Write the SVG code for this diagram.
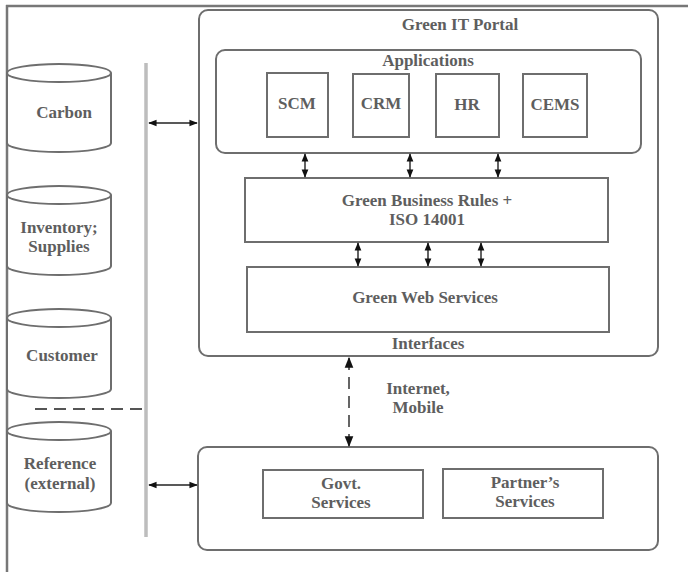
<svg xmlns="http://www.w3.org/2000/svg" width="688" height="572" viewBox="0 0 688 572">
  <style>
    .box { fill: #fff; stroke: #6e6e6e; stroke-width: 2; }
    .cyl { fill: #fff; stroke: #6e6e6e; stroke-width: 2; }
    .lbl { font-family: "Liberation Serif", "Times New Roman", serif; font-size: 17px; font-weight: bold; fill: #5e5e5e; text-anchor: middle; }
    .conn { stroke: #222; stroke-width: 1.4; fill: none; }
    .dash { stroke: #555; stroke-width: 1.8; fill: none; stroke-dasharray: 12 7; }
  </style>
  <defs>
    <marker id="ah" viewBox="0 0 10 10" refX="9" refY="5" markerWidth="6" markerHeight="6" orient="auto-start-reverse">
      <path d="M0,1 L10,5 L0,9 z" fill="#111"/>
    </marker>
  </defs>

  <rect width="688" height="572" fill="#fff"/>

  <!-- frame edges -->
  <g id="frame">
    <line x1="6" y1="6" x2="688" y2="6" stroke="#777" stroke-width="2.5"/>
    <line x1="7" y1="5" x2="7" y2="572" stroke="#777" stroke-width="2.5"/>
  </g>

  <!-- data stores -->
  <g id="carbon">
    <path class="cyl" d="M7,73 V143 A52,9 0 0 0 111,143 V73"/>
    <ellipse class="cyl" cx="59" cy="73" rx="52" ry="9"/>
    <text class="lbl" x="64" y="118">Carbon</text>
  </g>
  <g id="inventory">
    <path class="cyl" d="M7,195 V266 A52,9 0 0 0 111,266 V195"/>
    <ellipse class="cyl" cx="59" cy="195" rx="52" ry="9"/>
    <text class="lbl" x="59" y="233">Inventory;</text>
    <text class="lbl" x="59" y="252">Supplies</text>
  </g>
  <g id="customer">
    <path class="cyl" d="M7,318 V389 A52,9 0 0 0 111,389 V318"/>
    <ellipse class="cyl" cx="59" cy="318" rx="52" ry="9"/>
    <text class="lbl" x="62" y="361">Customer</text>
  </g>
  <g id="reference">
    <path class="cyl" d="M7,431 V503 A52,9 0 0 0 111,503 V431"/>
    <ellipse class="cyl" cx="59" cy="431" rx="52" ry="9"/>
    <text class="lbl" x="60" y="469">Reference</text>
    <text class="lbl" x="60" y="489">(external)</text>
  </g>

  <!-- shared bus -->
  <g id="bus">
    <line x1="146" y1="63" x2="146" y2="537" stroke="#bdbdbd" stroke-width="3.5"/>
  </g>

  <!-- portal -->
  <g id="portal">
    <rect class="box" x="199" y="10" width="459" height="346" rx="9"/>
    <text class="lbl" x="460" y="30">Green IT Portal</text>
    <text class="lbl" x="428" y="349">Interfaces</text>
  </g>
  <g id="applications">
    <rect class="box" x="216" y="50" width="425" height="103" rx="9"/>
    <text class="lbl" x="428" y="66">Applications</text>
  </g>
  <g id="scm">
    <rect class="box" x="267" y="73" width="61" height="64"/>
    <text class="lbl" x="297" y="109">SCM</text>
  </g>
  <g id="crm">
    <rect class="box" x="353" y="74" width="56" height="63"/>
    <text class="lbl" x="381" y="109">CRM</text>
  </g>
  <g id="hr">
    <rect class="box" x="436" y="74" width="63" height="63"/>
    <text class="lbl" x="467" y="110">HR</text>
  </g>
  <g id="cems">
    <rect class="box" x="523" y="74" width="64" height="63"/>
    <text class="lbl" x="555" y="110">CEMS</text>
  </g>
  <g id="rules">
    <rect class="box" x="245" y="178" width="363" height="64"/>
    <text class="lbl" x="427" y="206">Green Business Rules +</text>
    <text class="lbl" x="427" y="225">ISO 14001</text>
  </g>
  <g id="webservices">
    <rect class="box" x="247" y="267" width="362" height="65"/>
    <text class="lbl" x="425" y="303">Green Web Services</text>
  </g>

  <!-- external services -->
  <g id="external">
    <rect class="box" x="198" y="447" width="460" height="103" rx="9"/>
  </g>
  <g id="govt">
    <rect class="box" x="263" y="470" width="160" height="48"/>
    <text class="lbl" x="341" y="489">Govt.</text>
    <text class="lbl" x="341" y="508">Services</text>
  </g>
  <g id="partner">
    <rect class="box" x="443" y="469" width="160" height="49"/>
    <text class="lbl" x="525" y="488">Partner’s</text>
    <text class="lbl" x="525" y="507">Services</text>
  </g>

  <!-- connectors -->
  <g id="connectors">
    <line class="conn" x1="149" y1="123" x2="197" y2="123" marker-start="url(#ah)" marker-end="url(#ah)"/>
    <line class="conn" x1="149" y1="485" x2="197" y2="485" marker-start="url(#ah)" marker-end="url(#ah)"/>
    <line class="conn" x1="305" y1="154" x2="305" y2="177" marker-start="url(#ah)" marker-end="url(#ah)"/>
    <line class="conn" x1="410" y1="154" x2="410" y2="177" marker-start="url(#ah)" marker-end="url(#ah)"/>
    <line class="conn" x1="498" y1="154" x2="498" y2="177" marker-start="url(#ah)" marker-end="url(#ah)"/>
    <line class="conn" x1="358" y1="243" x2="358" y2="266" marker-start="url(#ah)" marker-end="url(#ah)"/>
    <line class="conn" x1="428" y1="243" x2="428" y2="266" marker-start="url(#ah)" marker-end="url(#ah)"/>
    <line class="conn" x1="481" y1="243" x2="481" y2="266" marker-start="url(#ah)" marker-end="url(#ah)"/>
    <line class="dash" x1="35" y1="409" x2="146" y2="409"/>
    <line class="dash" x1="349" y1="358" x2="349" y2="446" stroke-dasharray="11 7" marker-start="url(#ah)" marker-end="url(#ah)"/>
    <text class="lbl" x="418" y="394">Internet,</text>
    <text class="lbl" x="418" y="413">Mobile</text>
  </g>
</svg>
